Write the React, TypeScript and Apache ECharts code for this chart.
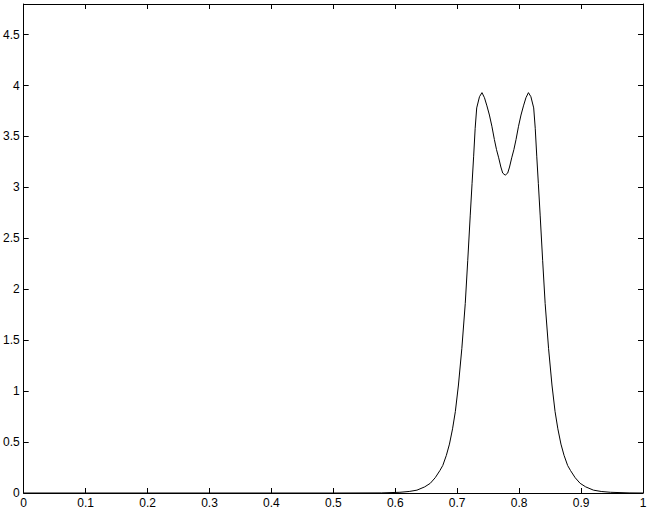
import React, { useEffect, useRef } from "react";
import * as echarts from "echarts";

const xValues = [
  0, 0.1, 0.2, 0.3, 0.4, 0.5, 0.5775, 0.6075, 0.6225, 0.635, 0.6475, 0.6565, 0.6645, 0.672, 0.6767,
  0.6825, 0.6875, 0.6925, 0.697, 0.702, 0.7075, 0.713, 0.717, 0.721, 0.724, 0.7265, 0.729, 0.7315,
  0.736, 0.74, 0.744, 0.748, 0.752, 0.756, 0.76, 0.7635, 0.767, 0.7705, 0.7735, 0.7775, 0.7815,
  0.7845, 0.788, 0.7915, 0.795, 0.799, 0.803, 0.807, 0.811, 0.815, 0.819, 0.8235, 0.826, 0.8285,
  0.831, 0.834, 0.838, 0.842, 0.8475, 0.853, 0.858, 0.8625, 0.8675, 0.8725, 0.8783, 0.883, 0.8905,
  0.8985, 0.9075, 0.92, 0.9325, 0.9475, 0.9775, 1.0,
];
const yValues = [
  0, 0, 0, 0, 0, 0, 0.001, 0.007, 0.015, 0.028, 0.06, 0.095, 0.15, 0.22, 0.27,
  0.37, 0.48, 0.63, 0.8, 1.06, 1.42, 1.86, 2.28, 2.72, 3.04, 3.3, 3.58, 3.78,
  3.89, 3.93, 3.88, 3.8, 3.71, 3.6, 3.47, 3.37, 3.29, 3.2, 3.14, 3.12, 3.14,
  3.2, 3.29, 3.37, 3.47, 3.6, 3.71, 3.8, 3.88, 3.93, 3.89, 3.78, 3.58, 3.3,
  3.04, 2.72, 2.28, 1.86, 1.42, 1.06, 0.8, 0.63, 0.48, 0.37, 0.27, 0.22, 0.15,
  0.095, 0.06, 0.028, 0.015, 0.007, 0.001, 0,
];

const FONT = "'Liberation Sans', Arial, Helvetica, sans-serif";

export default function App() {
  const ref = useRef<HTMLDivElement>(null);
  useEffect(() => {
    if (!ref.current) return;
    const chart = echarts.init(ref.current, null, { renderer: "svg" });
    const axisLine = { show: true, onZero: false, lineStyle: { color: "#000", width: 1 } };
    const tick = { show: true, inside: true, length: 5, lineStyle: { color: "#000", width: 1 } };
    const fmt = (v: number) => String(Math.round(v * 10) / 10);
    chart.setOption({
      animation: false,
      backgroundColor: "#fff",
      grid: { left: 23, right: 10, top: 4, bottom: 18, containLabel: false },
      xAxis: [
        {
          type: "value",
          min: 0,
          max: 1,
          interval: 0.1,
          position: "bottom",
          axisLine,
          axisTick: tick,
          splitLine: { show: false },
          axisLabel: { color: "#000", fontSize: 12, fontFamily: FONT, margin: 4, formatter: fmt },
        },
        {
          type: "value",
          min: 0,
          max: 1,
          interval: 0.1,
          position: "top",
          axisLine,
          axisTick: tick,
          splitLine: { show: false },
          axisLabel: { show: false },
        },
      ],
      yAxis: [
        {
          type: "value",
          min: 0,
          max: 4.8,
          interval: 0.5,
          position: "left",
          axisLine,
          axisTick: tick,
          splitLine: { show: false },
          axisLabel: {
            color: "#000",
            fontSize: 12,
            fontFamily: FONT,
            margin: 4,
            showMaxLabel: false,
            formatter: fmt,
          },
        },
        {
          type: "value",
          min: 0,
          max: 4.8,
          interval: 0.5,
          position: "right",
          axisLine,
          axisTick: tick,
          splitLine: { show: false },
          axisLabel: { show: false },
        },
      ],
      series: [
        {
          type: "line",
          data: xValues.map((x, i) => [x, yValues[i]]),
          showSymbol: false,
          smooth: false,
          lineStyle: { color: "#000", width: 1 },
          xAxisIndex: 0,
          yAxisIndex: 0,
        },
      ],
    });
    return () => chart.dispose();
  }, []);
  return (
    <div
      ref={ref}
      style={{ position: "fixed", left: 0, top: 0, width: 653, height: 511 }}
    />
  );
}
